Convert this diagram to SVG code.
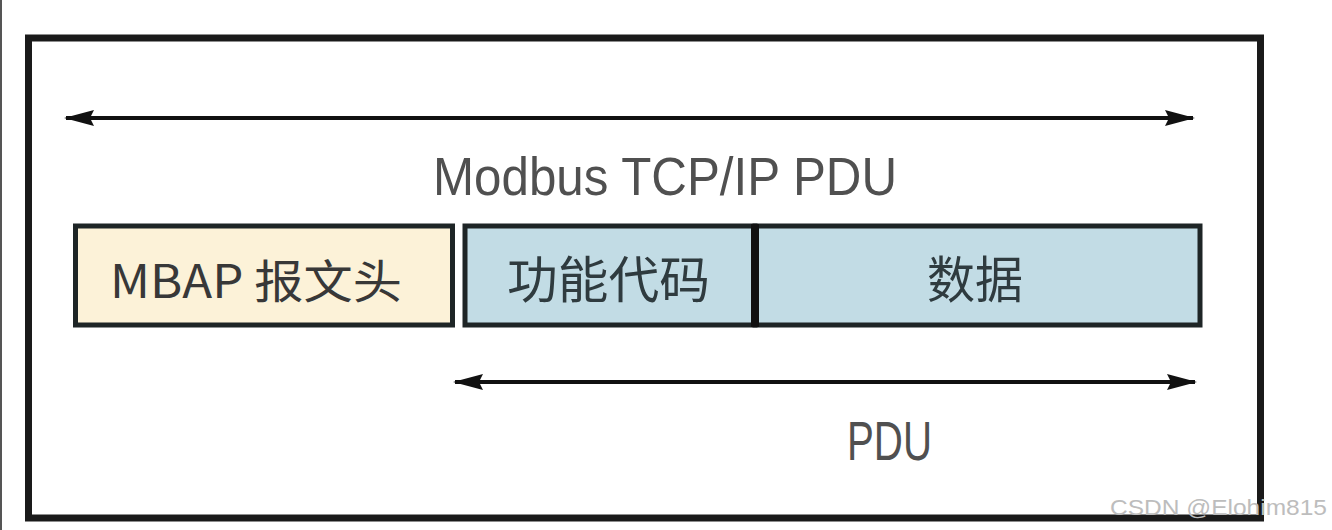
<svg xmlns="http://www.w3.org/2000/svg" width="1332" height="530" viewBox="0 0 1332 530">
  <style>
    .lbl { font-family: "Liberation Sans", "Noto Sans CJK SC", sans-serif; fill: #505050; }
    .cjk { font-family: "Noto Sans CJK SC", "Liberation Sans", sans-serif; fill: #383838; }
    .conn { stroke: #111; stroke-width: 4; fill: none; }
    .box { stroke: #1e2526; stroke-width: 5; }
  </style>
  <defs>
    <marker id="ah" viewBox="0 0 30 16" refX="28" refY="8" markerWidth="30" markerHeight="16" markerUnits="userSpaceOnUse" orient="auto-start-reverse">
      <path d="M0,0 L30,8 L0,16 L4,8 z" fill="#111"/>
    </marker>
  </defs>
  <rect width="1332" height="530" fill="#ffffff"/>
  <line x1="1" y1="0" x2="1" y2="530" stroke="#555" stroke-width="2"/>
  <g id="frame">
    <rect x="28.5" y="38" width="1232" height="480" fill="none" stroke="#1a1a1a" stroke-width="7"/>
  </g>
  <g id="connectors">
    <line class="conn" x1="66" y1="118" x2="1193" y2="118" marker-start="url(#ah)" marker-end="url(#ah)"/>
    <line class="conn" x1="455" y1="382" x2="1195" y2="382" marker-start="url(#ah)" marker-end="url(#ah)"/>
  </g>
  <g id="label-modbus">
    <text class="lbl" x="433" y="195" font-size="54" textLength="464" lengthAdjust="spacingAndGlyphs">Modbus TCP/IP PDU</text>
  </g>
  <g id="node-mbap">
    <rect class="box" x="75.5" y="226" width="377" height="99" fill="#fcf2d8"/>
    <text class="cjk" x="110" y="298" font-size="46" textLength="292" lengthAdjust="spacingAndGlyphs">MBAP 报文头</text>
  </g>
  <g id="node-func">
    <rect class="box" x="465" y="226" width="290" height="99" fill="#c2dce5"/>
    <text class="cjk" x="507" y="298" font-size="50" textLength="203" lengthAdjust="spacingAndGlyphs" style="fill:#2f3b3f">功能代码</text>
  </g>
  <g id="node-data">
    <rect class="box" x="755" y="226" width="445" height="99" fill="#c2dce5"/>
    <line x1="755" y1="224" x2="755" y2="327" stroke="#111" stroke-width="8"/>
    <text class="cjk" x="927" y="298" font-size="50" textLength="96" lengthAdjust="spacingAndGlyphs" style="fill:#2f3b3f">数据</text>
  </g>
  <g id="label-pdu">
    <text class="lbl" x="847" y="460" font-size="55" textLength="85" lengthAdjust="spacingAndGlyphs">PDU</text>
  </g>
  <text x="1110" y="515" font-family="Liberation Sans, sans-serif" font-size="22" fill="#bdbdbd" textLength="217" lengthAdjust="spacingAndGlyphs">CSDN @Elohim815</text>
</svg>
